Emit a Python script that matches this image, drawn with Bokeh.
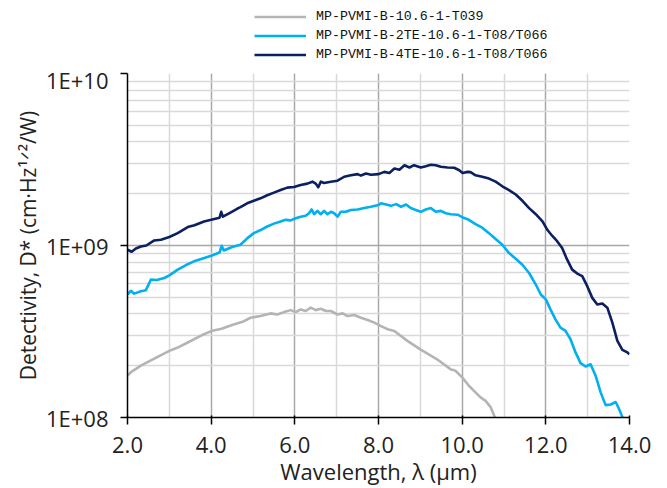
from bokeh.plotting import figure
from bokeh.layouts import column
from bokeh.models import FixedTicker, Legend, LegendItem, Range1d
from bokeh.embed import file_html
from bokeh.resources import INLINE

# ---------------- data ----------------
series_names = [
    "MP-PVMI-B-10.6-1-T039",
    "MP-PVMI-B-2TE-10.6-1-T08/T066",
    "MP-PVMI-B-4TE-10.6-1-T08/T066",
]
series_colors = ["#b4b4b4", "#00b0f0", "#0b2060"]

wl_gray = [2.0, 2.1, 2.32, 2.64, 3.0, 3.2, 3.44, 3.83, 4.0, 4.25, 4.5, 4.75, 4.94, 5.18,
           5.42, 5.58, 5.74, 5.9, 6.02, 6.14, 6.26, 6.38, 6.5, 6.62, 6.74, 6.86, 7.02,
           7.14, 7.26, 7.42, 7.58, 7.74, 7.9, 8.06, 8.22, 8.38, 8.69, 9.0, 9.4, 9.72,
           9.84, 10.0, 10.16, 10.32, 10.44, 10.56, 10.68, 10.76, 10.8]
d_gray = [1.75e8, 1.85e8, 2.00e8, 2.20e8, 2.44e8, 2.55e8, 2.73e8, 3.05e8, 3.18e8, 3.28e8,
          3.45e8, 3.60e8, 3.80e8, 3.89e8, 4.03e8, 3.97e8, 4.10e8, 4.21e8, 4.10e8, 4.25e8,
          4.16e8, 4.35e8, 4.21e8, 4.29e8, 4.16e8, 4.16e8, 3.97e8, 4.03e8, 3.89e8, 3.94e8,
          3.80e8, 3.69e8, 3.56e8, 3.40e8, 3.26e8, 3.18e8, 2.79e8, 2.49e8, 2.18e8, 1.91e8,
          1.87e8, 1.71e8, 1.53e8, 1.40e8, 1.31e8, 1.25e8, 1.15e8, 1.03e8, 9.8e7]

wl_2te = [2.0, 2.08, 2.16, 2.32, 2.44, 2.56, 2.7, 2.88, 3.0, 3.2, 3.4, 3.59, 3.8, 4.0,
          4.2, 4.25, 4.3, 4.5, 4.7, 4.86, 5.02, 5.18, 5.34, 5.5, 5.66, 5.78, 5.9, 6.02,
          6.14, 6.26, 6.34, 6.4, 6.46, 6.54, 6.62, 6.7, 6.78, 6.86, 6.94, 7.02, 7.1, 7.22,
          7.34, 7.5, 7.66, 7.82, 8.0, 8.06, 8.18, 8.3, 8.42, 8.54, 8.66, 8.77, 8.89, 9.01,
          9.13, 9.25, 9.37, 9.49, 9.61, 9.73, 9.89, 10.0, 10.16, 10.32, 10.48, 10.64, 10.8,
          10.96, 11.12, 11.28, 11.44, 11.6, 11.76, 11.88, 12.0, 12.11, 12.23, 12.35, 12.47,
          12.59, 12.71, 12.83, 12.95, 13.07, 13.19, 13.31, 13.43, 13.55, 13.67, 13.75,
          13.83, 13.86]
d_2te = [5.19e8, 5.45e8, 5.25e8, 5.42e8, 5.50e8, 6.34e8, 6.30e8, 6.47e8, 6.70e8, 7.24e8,
         7.70e8, 8.09e8, 8.40e8, 8.71e8, 9.10e8, 9.96e8, 9.35e8, 9.80e8, 1.01e9, 1.10e9,
         1.18e9, 1.23e9, 1.29e9, 1.34e9, 1.38e9, 1.41e9, 1.40e9, 1.44e9, 1.47e9, 1.49e9,
         1.54e9, 1.62e9, 1.52e9, 1.59e9, 1.52e9, 1.59e9, 1.52e9, 1.57e9, 1.54e9, 1.47e9,
         1.57e9, 1.57e9, 1.61e9, 1.62e9, 1.65e9, 1.68e9, 1.72e9, 1.76e9, 1.73e9, 1.70e9,
         1.74e9, 1.68e9, 1.73e9, 1.65e9, 1.61e9, 1.57e9, 1.62e9, 1.65e9, 1.57e9, 1.59e9,
         1.54e9, 1.52e9, 1.51e9, 1.46e9, 1.41e9, 1.33e9, 1.27e9, 1.18e9, 1.09e9, 1.01e9,
         9.03e8, 8.38e8, 7.73e8, 6.92e8, 5.93e8, 5.19e8, 4.86e8, 4.25e8, 3.72e8, 3.33e8,
         3.19e8, 2.85e8, 2.39e8, 2.07e8, 1.98e8, 2.04e8, 1.75e8, 1.40e8, 1.18e8, 1.19e8,
         1.23e8, 1.12e8, 1.005e8, 9.8e7]

wl_4te = [2.0, 2.1, 2.2, 2.32, 2.45, 2.64, 2.8, 3.0, 3.2, 3.44, 3.6, 3.83, 4.0, 4.2, 4.24,
          4.28, 4.45, 4.63, 4.7, 4.86, 5.02, 5.18, 5.34, 5.5, 5.66, 5.82, 5.98, 6.14, 6.3,
          6.42, 6.5, 6.56, 6.62, 6.7, 6.86, 7.02, 7.18, 7.34, 7.5, 7.58, 7.7, 7.82, 8.0,
          8.14, 8.26, 8.38, 8.5, 8.62, 8.74, 8.85, 9.01, 9.13, 9.25, 9.37, 9.49, 9.65, 9.81,
          9.93, 10.01, 10.13, 10.2, 10.32, 10.48, 10.64, 10.8, 10.96, 11.12, 11.28, 11.44,
          11.6, 11.76, 11.92, 12.04, 12.15, 12.27, 12.39, 12.51, 12.63, 12.75, 12.87, 12.99,
          13.11, 13.23, 13.35, 13.47, 13.59, 13.71, 13.83, 13.95, 14.0]
d_4te = [9.44e8, 9.20e8, 9.60e8, 9.86e8, 1.00e9, 1.07e9, 1.08e9, 1.12e9, 1.18e9, 1.28e9,
         1.31e9, 1.38e9, 1.41e9, 1.45e9, 1.57e9, 1.47e9, 1.55e9, 1.64e9, 1.67e9, 1.76e9,
         1.82e9, 1.88e9, 1.96e9, 2.03e9, 2.10e9, 2.17e9, 2.19e9, 2.25e9, 2.29e9, 2.35e9,
         2.29e9, 2.18e9, 2.35e9, 2.31e9, 2.35e9, 2.38e9, 2.51e9, 2.56e9, 2.60e9, 2.55e9,
         2.62e9, 2.58e9, 2.60e9, 2.68e9, 2.64e9, 2.80e9, 2.76e9, 2.93e9, 2.84e9, 2.93e9,
         2.84e9, 2.89e9, 2.95e9, 2.93e9, 2.87e9, 2.84e9, 2.83e9, 2.74e9, 2.64e9, 2.68e9,
         2.67e9, 2.56e9, 2.51e9, 2.45e9, 2.35e9, 2.21e9, 2.10e9, 1.98e9, 1.82e9, 1.65e9,
         1.52e9, 1.38e9, 1.23e9, 1.14e9, 1.06e9, 9.66e8, 8.27e8, 7.24e8, 6.87e8, 6.63e8,
         5.80e8, 4.96e8, 4.54e8, 4.60e8, 4.35e8, 3.56e8, 2.79e8, 2.47e8, 2.39e8, 2.33e8]

x_ticks = [2, 4, 6, 8, 10, 12, 14]
x_tick_labels = ["2.0", "4.0", "6.0", "8.0", "10.0", "12.0", "14.0"]
x_minor = [3, 5, 7, 9, 11, 13]
y_ticks = [1e8, 1e9, 1e10]
y_tick_labels = ["1E+08", "1E+09", "1E+10"]
y_minor = [k * 10 ** d for d in (8, 9) for k in range(2, 10)]

x_title = "Wavelength, λ (μm)"
y_title = "Detectivity, D* (cm·Hz¹ᐟ²/W)"

W = 667
LEG_H = 64
NAN = float("nan")

# ---------------- legend strip (its frame is aligned with the chart frame) ----------------
leg = figure(width=W, height=LEG_H, output_backend="svg", toolbar_location=None,
             x_range=Range1d(0, 1), y_range=Range1d(0, 1),
             x_axis_location=None, y_axis_location=None,
             min_border_left=0, min_border_right=0, min_border_top=0, min_border_bottom=0)
leg.outline_line_color = None
leg.grid.visible = False
leg.border_fill_color = "white"
leg.background_fill_color = "white"

leg_items = []
for name, color in zip(series_names, series_colors):
    rr = leg.line(x=[NAN], y=[NAN], line_color=color, line_width=2.6)
    leg_items.append(LegendItem(label=name, renderers=[rr]))

legend = Legend(items=leg_items, location=(127, 0), orientation="vertical",
                border_line_color=None, background_fill_alpha=0,
                padding=0, margin=0, spacing=0,
                glyph_width=52, glyph_height=19, label_height=19,
                label_standoff=10,
                label_text_font="Liberation Mono", label_text_font_size="13.3px",
                label_text_color="#111111")
leg.add_layout(legend, "center")

# ---------------- main chart ----------------
p = figure(width=W, height=488 - LEG_H, output_backend="svg", toolbar_location=None,
           y_axis_type="log", x_range=Range1d(2, 14), y_range=Range1d(1e8, 1e10),
           min_border_left=127, min_border_right=38, min_border_top=73 - LEG_H,
           min_border_bottom=69)
p.outline_line_color = None
p.background_fill_color = "white"
p.border_fill_color = "white"

FONT = "Open Sans"

p.xaxis.ticker = FixedTicker(ticks=x_ticks, minor_ticks=x_minor)
p.yaxis.ticker = FixedTicker(ticks=y_ticks, minor_ticks=y_minor)
p.xaxis.major_label_overrides = dict(zip(x_ticks, x_tick_labels))
p.yaxis.major_label_overrides = dict(zip(y_ticks, y_tick_labels))

for ax in (p.xaxis[0], p.yaxis[0]):
    ax.axis_line_color = "black"
    ax.axis_line_width = 1.5
    ax.major_tick_line_color = "black"
    ax.major_tick_line_width = 1.5
    ax.minor_tick_line_color = None
    ax.major_label_text_font = FONT
    ax.major_label_text_font_size = "22px"
    ax.major_label_text_color = "#222222"
    ax.axis_label_text_font = FONT
    ax.axis_label_text_font_style = "normal"
    ax.axis_label_text_color = "#222222"

p.xaxis.axis_label_text_font_size = "22px"
p.yaxis.axis_label_text_font_size = "21px"
p.xaxis.major_tick_out = 7
p.xaxis.major_tick_in = 2
p.yaxis.major_tick_out = 7
p.yaxis.major_tick_in = 0
p.xaxis.major_label_standoff = 12
p.yaxis.major_label_standoff = 12
p.xaxis.axis_label = x_title
p.yaxis.axis_label = y_title
p.xaxis.axis_label_standoff = 0
p.yaxis.axis_label_standoff = 1

p.xgrid.ticker = p.xaxis[0].ticker
p.ygrid.ticker = p.yaxis[0].ticker
for g in (p.xgrid[0], p.ygrid[0]):
    g.grid_line_color = "#a8a8a8"
    g.grid_line_width = 1.5
    g.minor_grid_line_color = "#d9d9d9"
    g.minor_grid_line_width = 1.5

wls = [wl_gray, wl_2te, wl_4te]
ds = [d_gray, d_2te, d_4te]
for color, xs, ys in zip(series_colors, wls, ds):
    p.line(xs, ys, line_color=color, line_width=2.6, line_join="round")

layout = column(leg, p, spacing=0)
open("out.html", "w").write(file_html(layout, INLINE))
